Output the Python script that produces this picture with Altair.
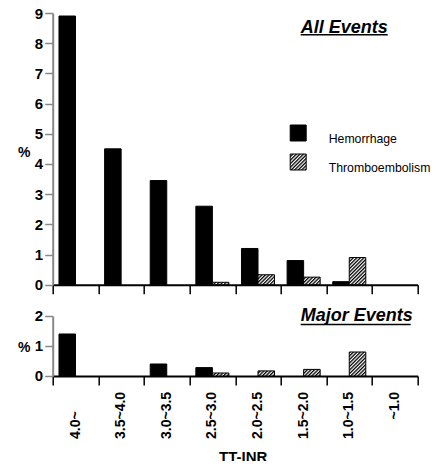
import altair as alt
import pandas as pd
import jinja2

# ---------------- data ----------------
categories = ["4.0~", "3.5~4.0", "3.0~3.5", "2.5~3.0", "2.0~2.5", "1.5~2.0", "1.0~1.5", "~1.0"]
series = ["Hemorrhage", "Thromboembolism"]
all_hemorrhage = [8.9, 4.5, 3.45, 2.6, 1.2, 0.8, 0.1, 0.0]
all_thrombo = [0.0, 0.0, 0.0, 0.08, 0.33, 0.25, 0.9, 0.0]
major_hemorrhage = [1.4, 0.0, 0.4, 0.28, 0.0, 0.0, 0.0, 0.0]
major_thrombo = [0.0, 0.0, 0.0, 0.1, 0.17, 0.22, 0.8, 0.0]
y_ticks_all = [0, 1, 2, 3, 4, 5, 6, 7, 8, 9]
y_ticks_major = [0, 1, 2]
x_title = "TT-INR"
y_title = "%"
panel_titles = ["All Events", "Major Events"]

FONT = "Liberation Sans"


def long_frame(hem, thr):
    rows = []
    for c, a, b in zip(categories, hem, thr):
        rows.append({"cat": c, "series": series[0], "value": a})
        rows.append({"cat": c, "series": series[1], "value": b})
    return pd.DataFrame(rows)


df_all = long_frame(all_hemorrhage, all_thrombo)
df_major = long_frame(major_hemorrhage, major_thrombo)
lab_df = pd.DataFrame({
    "cat": categories,
    "prefix": [c.split("~")[0] for c in categories],
    "rest": ["~" + c.split("~")[1] for c in categories],
})

# ---------------- encodings ----------------
x_scale = alt.Scale(domain=categories, paddingInner=0, paddingOuter=0)
xoff = alt.XOffset("series:N", sort=series,
                   scale=alt.Scale(domain=series, paddingInner=0, paddingOuter=0.38))
color_scale = alt.Scale(domain=series, range=["black", "url(#hatch)"])

common_x_axis = dict(labels=False, tickBand="extent", tickSize=9, tickWidth=1.5,
                     tickColor="black", domainColor="black", domainWidth=2)
top_x_axis = alt.Axis(title=None, **common_x_axis)
bottom_x_axis = alt.Axis(title=x_title, titleFontSize=15, titleFontWeight="bold",
                         titleAlign="center", titleBaseline="alphabetic",
                         titleX=190, titleY=86, **common_x_axis)


def y_axis(values, title_y):
    return alt.Axis(values=values, format=".0f", title=y_title, titleAngle=0,
                    titleAlign="left", titleBaseline="alphabetic", titleX=-35.3,
                    titleY=title_y, titleFontSize=14, titleFontWeight="bold",
                    labelFontSize=15, labelFontWeight="bold", labelPadding=2,
                    labelOverlap=False, labelFlush=False,
                    tickSize=8, tickWidth=1.5, domainWidth=2, grid=False)


def bars(df, domain, axis_values, title_y, legend, x_axis):
    return alt.Chart(df).transform_filter("datum.value > 0").mark_bar(
        stroke="black", strokeWidth=1
    ).encode(
        x=alt.X("cat:N", sort=categories, scale=x_scale, axis=x_axis),
        xOffset=xoff,
        y=alt.Y("value:Q", scale=alt.Scale(domain=domain, nice=False, zero=True),
                axis=y_axis(axis_values, title_y)),
        color=alt.Color("series:N", sort=series, scale=color_scale, legend=legend),
    )


legend = alt.Legend(title=None, orient="none", legendX=237, legendY=111.5,
                    symbolType="square", symbolSize=256, symbolStrokeColor="black",
                    symbolStrokeWidth=1, labelFontSize=12.3, labelFont=FONT,
                    labelFontWeight="normal", labelColor="black", labelOffset=22,
                    labelLimit=200, rowPadding=6, padding=0, labelBaseline="top")


def panel_title(text, x, y, ux2, uy):
    d = pd.DataFrame({"label": [text]})
    t = alt.Chart(d).mark_text(align="left", baseline="alphabetic", fontSize=18,
                               fontWeight="bold", fontStyle="italic", font=FONT,
                               color="black").encode(
        x=alt.value(x), y=alt.value(y), text="label:N")
    u = alt.Chart(d).mark_rule(color="black", strokeWidth=1.6).encode(
        x=alt.value(x), x2=alt.value(ux2), y=alt.value(uy))
    return [t, u]


top = alt.layer(
    bars(df_all, [0, 9], y_ticks_all, 143.2, legend, top_x_axis),
    *panel_title(panel_titles[0], 248, 19.5, 335, 21.8),
).properties(width=365, height=271.7)

lab_pre = alt.Chart(lab_df).mark_text(
    angle=270, align="right", baseline="middle", fontSize=14, fontWeight="bold",
    font=FONT, color="black"
).encode(x=alt.X("cat:N", sort=categories, scale=x_scale, axis=bottom_x_axis),
         y=alt.value(103.5), text="prefix:N")
lab_rest = alt.Chart(lab_df).mark_text(
    angle=270, align="left", baseline="middle", fontSize=14, fontWeight="bold",
    font=FONT, color="black"
).encode(x=alt.X("cat:N", sort=categories, scale=x_scale, axis=bottom_x_axis),
         y=alt.value(103.5), text="rest:N")

bottom = alt.layer(
    bars(df_major, [0, 2], y_ticks_major, 35.2, None, bottom_x_axis),
    lab_pre, lab_rest,
    *panel_title(panel_titles[1], 248, 5.5, 358, 8.5),
).properties(width=365, height=60)

chart = alt.vconcat(top, bottom, spacing=12).resolve_legend(
    color="independent"
).properties(
    padding={"left": 8.7, "top": -2, "right": 0, "bottom": -4}
).configure(font=FONT).configure_view(strokeWidth=0).configure_axis(
    labelColor="black", titleColor="black", labelFont=FONT, titleFont=FONT
)

# ---------------- hatch pattern for the SVG renderer ----------------
HATCH_DEFS = (
    '<style>.vega-embed svg, svg.marks { overflow: visible !important; }</style>'
    '<svg width="0" height="0" style="position:absolute;width:0;height:0;overflow:hidden" '
    'aria-hidden="true"><defs>'
    '<pattern id="hatch" patternUnits="userSpaceOnUse" width="2.5" height="2.5" '
    'patternTransform="rotate(45)">'
    '<rect x="0" y="0" width="2.5" height="2.5" fill="white"/>'
    '<line x1="0.65" y1="0" x2="0.65" y2="2.5" stroke="black" stroke-width="1.3"/>'
    '</pattern></defs></svg>'
)

try:
    from altair.utils import html as _alt_html
    _base = getattr(_alt_html, "TEMPLATES", {}).get("standard", None) or _alt_html.HTML_TEMPLATE

    class _HatchTemplate(jinja2.Template):
        def render(self, *args, **kwargs):
            out = _base.render(*args, **kwargs)
            if "<body>" in out:
                return out.replace("<body>", "<body>" + HATCH_DEFS, 1)
            return HATCH_DEFS + out

    _tmpl = _HatchTemplate("")
except Exception:
    _tmpl = None

try:
    if _tmpl is None:
        raise RuntimeError
    chart.save("out.html", embed_options={"renderer": "svg", "actions": False}, template=_tmpl)
except Exception:
    chart.save("out.html", embed_options={"renderer": "svg", "actions": False})
